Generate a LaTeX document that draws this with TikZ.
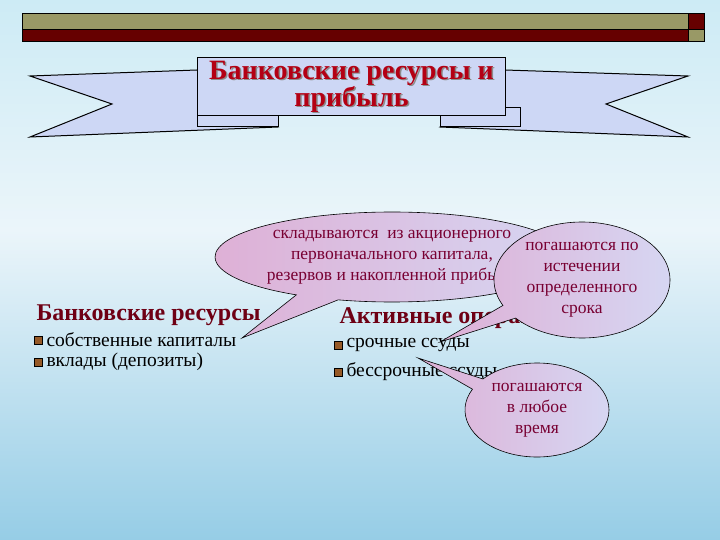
\documentclass[tikz,border=0pt]{standalone}
\usepackage{fontspec}
\setmainfont{Liberation Serif}
\usetikzlibrary{shapes.callouts}
\definecolor{olivebar}{RGB}{153,153,102}
\definecolor{darkredbar}{RGB}{102,0,0}
\definecolor{titlered}{RGB}{180,0,20}
\definecolor{callouttext}{RGB}{120,0,50}
\definecolor{pinkfill}{RGB}{222,176,214}
\definecolor{lavfill}{RGB}{214,214,242}
\definecolor{ribbonfill}{RGB}{205,215,245}
\definecolor{bgtop}{RGB}{205,235,245}
\definecolor{bgmid}{RGB}{235,245,250}
\definecolor{bgbot}{RGB}{150,205,230}
\definecolor{headred}{RGB}{110,0,20}
\definecolor{bulletc}{RGB}{150,90,40}
\tikzset{
  bubble/.style={ellipse callout, draw=black, line width=0.6pt, left color=pinkfill, right color=lavfill,
     text=callouttext, font=\fontsize{17.5}{21}\selectfont, align=center, inner sep=0pt},
  head/.style={anchor=west, font=\fontsize{24}{26}\selectfont\bfseries, text=headred},
  item/.style={anchor=west, font=\fontsize{19.5}{22}\selectfont, text=black},
  bul/.style={draw=black, line width=0.3pt, fill=bulletc, minimum size=8pt, inner sep=0pt},
  ribbon/.style={draw=black, line width=1pt, fill=ribbonfill},
  titlef/.style={font=\fontsize{28}{26}\selectfont\bfseries, align=center}
}
\begin{document}
\begin{tikzpicture}[x=1pt,y=-1pt]
\useasboundingbox (0,0) rectangle (720,540);
\shade[top color=bgtop, bottom color=bgmid] (0,0) rectangle (720,230);
\shade[top color=bgmid, bottom color=bgbot] (0,230) rectangle (720,540);
% top bar
\fill[olivebar,draw=black,line width=0.4pt] (22,13) rectangle (688,29);
\fill[darkredbar,draw=black,line width=0.4pt] (22,29) rectangle (688,41);
\fill[darkredbar,draw=black,line width=0.4pt] (688,13) rectangle (704,29);
\fill[olivebar,draw=black,line width=0.4pt] (688,29) rectangle (704,41);
% ribbon tails
\draw[ribbon] (30,76) -- (197,70) -- (278,127) -- (30,137) -- (112,104) -- cycle;
\draw[ribbon] (688,76) -- (505,70) -- (440,127) -- (688,137) -- (606,104) -- cycle;
\draw[ribbon] (197,108) rectangle (278,127);
\draw[ribbon] (440,108) rectangle (520,127);
\node[ribbon, minimum width=308pt, minimum height=58pt, anchor=north west, inner sep=0pt] (title) at (197,57) {};
\node[titlef, text=black!45] (titleshadow) at ([shift={(1.5,1.5)}]title.center)
  {Банковские ресурсы и\\прибыль};
\node[titlef, text=titlered] (titletext) at (title.center)
  {Банковские ресурсы и\\прибыль};
% left list
\node[head] (h1) at (33,315) {Банковские ресурсы};
\node[bul] (b1) at (38,340) {};
\node[item] (t1) at (43,340) {собственные капиталы};
\node[bul] (b2) at (38,362) {};
\node[item] (t2) at (43,362) {вклады (депозиты)};
% right list
\node[head] (h2) at (336,318) {Активные операции};
\node[bul] (b3) at (338,345) {};
\node[item] (t3) at (343,345) {срочные ссуды};
\node[bul] (b4) at (338,372) {};
\node[item] (t4) at (343,372) {бессрочные ссуды};
% callouts
\coordinate (p1) at (242,338);
\coordinate (p2) at (440,342);
\coordinate (p3) at (418,358);
\node[bubble, minimum width=330pt, minimum height=90pt, callout absolute pointer={(p1)}] (c1) at (392,257)
  {складываются \ из акционерного\\первоначального капитала,\\резервов и накопленной прибыли};
\node[bubble, minimum width=176pt, minimum height=116pt, callout absolute pointer={(p2)}] (c2) at (582,280)
  {погашаются по\\истечении\\определенного\\срока};
\node[bubble, minimum width=144pt, minimum height=94pt, callout absolute pointer={(p3)}] (c3) at (537,410)
  {погашаются\\в любое\\время};
\end{tikzpicture}
\end{document}
